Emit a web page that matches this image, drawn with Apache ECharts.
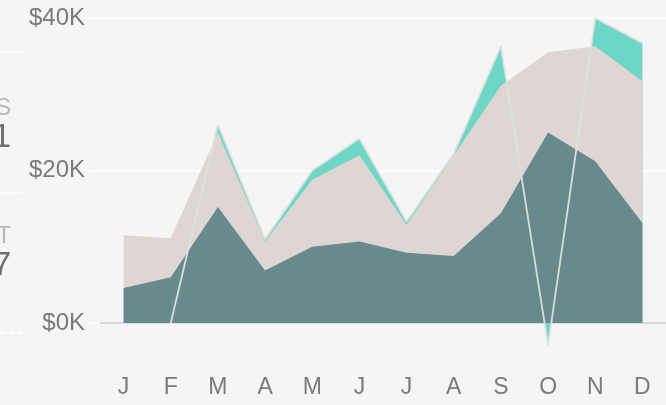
<!DOCTYPE html>
<html>
<head>
<meta charset="UTF-8">
<title>monthly revenue</title>
<script type="text/javascript" src="https://cdn.jsdelivr.net/npm/echarts@6/dist/echarts.min.js"></script>
<style>
	html, body { margin: 0; padding: 0; background: #f5f5f5; }
	#container { width: 666px; height: 405px; }
</style>
</head>
<body>
	<div id="container"></div>
<script type="text/javascript">
	// 月份
	var months = ['J', 'F', 'M', 'A', 'M', 'J', 'J', 'A', 'S', 'O', 'N', 'D'];
	var yTicks = [0, 20000, 40000];
	// 三个面积系列 (单位: 美元)
	var baseSeries = [4600, 6000, 15200, 6900, 10000, 10700, 9200, 8800, 14400, 25000, 21200, 13100];
	var midSeries = [11500, 11100, 25000, 10700, 18800, 22000, 12900, 22000, 31100, 35500, 36300, 31700];
	var topSeries = [null, 0, 26000, 11000, 20000, 24200, 13300, 22200, 36300, -2900, 40000, 36700];

	var dom = document.getElementById('container');
	var myChart = echarts.init(dom);

	var leftBits = [
		{text: 'S', y: 97, size: 23, color: '#b8b8b8'},
		{text: '1', y: 121, size: 33, color: '#707070'},
		{text: 'T', y: 225, size: 23, color: '#b8b8b8'},
		{text: '7', y: 249, size: 33, color: '#707070'}
	];
	var graphics = leftBits.map(function (b) {
		return {
			type: 'text', x: 11, y: b.y,
			style: {text: b.text, fill: b.color, font: b.size + 'px "Liberation Sans"', textAlign: 'right'}
		};
	});
	graphics.push({type: 'line', shape: {x1: 0, y1: 52, x2: 23, y2: 52}, style: {stroke: '#ffffff', lineWidth: 1.5}});
	graphics.push({type: 'line', shape: {x1: 0, y1: 193, x2: 23, y2: 193}, style: {stroke: '#ffffff', lineWidth: 1.5}});
	graphics.push({type: 'line', shape: {x1: 0, y1: 333, x2: 23, y2: 333}, style: {stroke: '#ffffff', lineWidth: 1.5, lineDash: [5, 4]}});

	var option = {
		backgroundColor: '#f5f5f5',
		animation: false,
		graphic: graphics,
		grid: {left: 100, right: 0, top: 18, bottom: 82},
		xAxis: {
			type: 'category',
			data: months,
			boundaryGap: true,
			axisLine: {show: true, lineStyle: {color: '#cfcfcf', width: 1.5}},
			axisTick: {show: false},
			axisLabel: {margin: 53, color: '#7a7a7a', fontSize: 23, fontFamily: 'Liberation Sans'}
		},
		yAxis: {
			type: 'value',
			min: 0,
			max: 40000,
			interval: 20000,
			axisLine: {show: false},
			axisTick: {show: true, length: 10, lineStyle: {color: '#ffffff', width: 1.5}},
			splitLine: {lineStyle: {color: '#ffffff', width: 1.5}},
			axisLabel: {
				margin: 15, color: '#7a7a7a', fontSize: 24, fontFamily: 'Liberation Sans',
				formatter: function (v) { return yTicks.indexOf(v) >= 0 ? '$' + (v / 1000) + 'K' : ''; }
			}
		},
		series: [
			{
				type: 'line', data: topSeries, showSymbol: false, clip: false,
				lineStyle: {width: 0}, areaStyle: {color: '#6dd6c4', opacity: 1}
			},
			{
				type: 'line', data: midSeries, showSymbol: false, clip: false,
				lineStyle: {width: 0}, areaStyle: {color: '#ddd6d2', opacity: 1}
			},
			{
				type: 'line', data: baseSeries, showSymbol: false, clip: false,
				lineStyle: {width: 0}, areaStyle: {color: '#688a8c', opacity: 1}
			},
			{
				type: 'line', data: topSeries, showSymbol: false, clip: false,
				lineStyle: {width: 1.8, color: 'rgba(222,226,226,0.95)'}
			}
		]
	};
	myChart.setOption(option);
</script>
</body>
</html>
